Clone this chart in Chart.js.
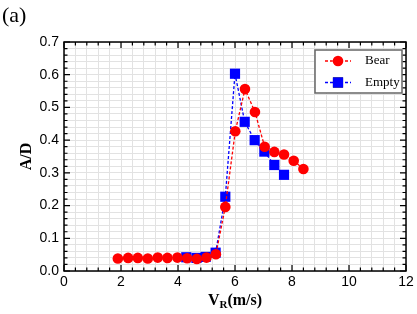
<!DOCTYPE html>
<html>
<head>
<meta charset="utf-8">
<script src="https://cdn.jsdelivr.net/npm/chart.js@4/dist/chart.umd.min.js"></script>
<style>
  html, body { margin: 0; padding: 0; background: #fff; }
  #wrap { width: 417px; height: 314px; position: relative; }
</style>
</head>
<body>
<div id="wrap"><canvas id="chart" width="417" height="314"></canvas></div>
<script>
(function() {
  'use strict';

  // Bear series (red circles)
  var bearX = [1.89, 2.25, 2.59, 2.94, 3.29, 3.63, 3.98, 4.32, 4.66, 5.00, 5.33,
               5.66, 6.01, 6.35, 6.70, 7.04, 7.38, 7.72, 8.06, 8.40];
  var bearY = [0.038, 0.040, 0.040, 0.038, 0.041, 0.040, 0.041, 0.039, 0.037, 0.041, 0.051,
               0.196, 0.427, 0.556, 0.486, 0.380, 0.364, 0.356, 0.337, 0.312];

  // Empty series (blue squares)
  var emptyX = [4.29, 4.65, 4.97, 5.32, 5.66, 6.00, 6.34, 6.69, 7.03, 7.38, 7.72];
  var emptyY = [0.042, 0.040, 0.043, 0.056, 0.227, 0.603, 0.456, 0.400, 0.365, 0.324, 0.294];

  var seriesNames = ['Bear', 'Empty'];

  var X_MIN = 0, X_MAX = 12, X_STEP = 0.4, X_LABEL_STEP = 2;
  var Y_MIN = 0, Y_MAX = 0.7, Y_STEP = 0.02, Y_LABEL_STEP = 0.1;

  var RED  = '#ff0000';
  var BLUE = '#0000ff';
  var GRID = '#e2e2e2';
  var FONT_SANS  = "'Liberation Sans', Arial, sans-serif";
  var FONT_SERIF = "'Liberation Serif', 'Times New Roman', serif";

  function pts(xs, ys) {
    return xs.map(function(x, i) { return { x: x, y: ys[i] }; });
  }

  function isMultiple(v, step) {
    var r = v / step;
    return Math.abs(r - Math.round(r)) < 1e-6;
  }

  // box, inward ticks, axis titles, legend, panel label
  var decor = {
    id: 'decor',
    afterDatasetsDraw: function(chart) {
      var ctx = chart.ctx;
      var a = chart.chartArea;
      var xs = chart.scales.x, ys = chart.scales.y;
      ctx.save();
      ctx.strokeStyle = '#000';
      ctx.lineWidth = 1.5;
      ctx.strokeRect(a.left, a.top, a.right - a.left, a.bottom - a.top);

      ctx.lineWidth = 1.2;
      ctx.beginPath();
      xs.ticks.forEach(function(t) {
        var px = xs.getPixelForValue(t.value);
        var len = isMultiple(t.value, X_LABEL_STEP) ? 6 : 3.5;
        ctx.moveTo(px, a.bottom); ctx.lineTo(px, a.bottom - len);
        ctx.moveTo(px, a.top); ctx.lineTo(px, a.top + len);
      });
      ys.ticks.forEach(function(t) {
        var py = ys.getPixelForValue(t.value);
        var len = isMultiple(t.value, Y_LABEL_STEP) ? 6 : 3.5;
        ctx.moveTo(a.left, py); ctx.lineTo(a.left + len, py);
        ctx.moveTo(a.right, py); ctx.lineTo(a.right - len, py);
      });
      ctx.stroke();

      // x title: V_R(m/s)
      ctx.fillStyle = '#000';
      ctx.textBaseline = 'alphabetic';
      var cx = (a.left + a.right) / 2;
      var ty = 305;
      ctx.font = 'bold 16px ' + FONT_SERIF;
      var wV = ctx.measureText('V').width;
      ctx.font = 'bold 11px ' + FONT_SERIF;
      var wR = ctx.measureText('R').width;
      ctx.font = 'bold 16px ' + FONT_SERIF;
      var wRest = ctx.measureText('(m/s)').width;
      var sx = cx - (wV + wR + wRest) / 2;
      ctx.textAlign = 'left';
      ctx.fillText('V', sx, ty);
      ctx.font = 'bold 11px ' + FONT_SERIF;
      ctx.fillText('R', sx + wV, ty + 3);
      ctx.font = 'bold 16px ' + FONT_SERIF;
      ctx.fillText('(m/s)', sx + wV + wR, ty);

      // y title
      ctx.save();
      ctx.translate(27, (a.top + a.bottom) / 2);
      ctx.rotate(-Math.PI / 2);
      ctx.textAlign = 'center';
      ctx.textBaseline = 'middle';
      ctx.font = 'bold 16px ' + FONT_SERIF;
      ctx.fillText('A/D', 0, 0);
      ctx.restore();

      // panel label
      ctx.font = '22px ' + FONT_SERIF;
      ctx.textAlign = 'left';
      ctx.textBaseline = 'alphabetic';
      ctx.fillText('(a)', 2, 22);

      // legend
      var lx = a.right - 91, ly = a.top + 8, lw = 87, lh = 43;
      ctx.fillStyle = '#fff';
      ctx.fillRect(lx, ly, lw, lh);
      ctx.strokeStyle = '#666';
      ctx.lineWidth = 1.5;
      ctx.strokeRect(lx, ly, lw, lh);
      chart.data.datasets.forEach(function(ds, i) {
        var y = ly + 11 + i * 21.5;
        ctx.strokeStyle = ds.borderColor;
        ctx.lineWidth = 1.3;
        ctx.setLineDash([3, 2]);
        ctx.beginPath();
        ctx.moveTo(lx + 10, y); ctx.lineTo(lx + 36, y);
        ctx.stroke();
        ctx.setLineDash([]);
        Chart.helpers.drawPoint(ctx, {
          pointStyle: ds.pointStyle, radius: ds.pointRadius, rotation: 0, borderWidth: 0
        }, lx + 23, y);
        ctx.fillStyle = ds.backgroundColor;
        ctx.fill();
        ctx.fillStyle = '#000';
        ctx.font = '13px ' + FONT_SERIF;
        ctx.textBaseline = 'middle';
        ctx.fillText(ds.label, lx + 50, y);
      });
      ctx.restore();
    }
  };

  new Chart(document.getElementById('chart'), {
    type: 'scatter',
    data: {
      datasets: [
        {
          label: seriesNames[0],
          data: pts(bearX, bearY),
          showLine: true,
          borderColor: RED,
          backgroundColor: RED,
          borderWidth: 1.3,
          borderDash: [3, 2],
          pointStyle: 'circle',
          pointRadius: 5.3,
          pointBorderWidth: 0
        },
        {
          label: seriesNames[1],
          data: pts(emptyX, emptyY),
          showLine: true,
          borderColor: BLUE,
          backgroundColor: BLUE,
          borderWidth: 1.3,
          borderDash: [3, 2],
          pointStyle: 'rect',
          pointRadius: 7.2,
          pointBorderWidth: 0
        }
      ]
    },
    options: {
      responsive: false,
      animation: false,
      devicePixelRatio: 1,
      layout: { padding: { left: 0, top: 42, right: 11, bottom: 0 } },
      plugins: {
        legend: { display: false },
        tooltip: { enabled: false }
      },
      scales: {
        x: {
          type: 'linear',
          min: X_MIN, max: X_MAX,
          afterFit: function(s) { s.height = 43; },
          afterBuildTicks: function(s) {
            var t = [];
            for (var i = 0; i <= Math.round((X_MAX - X_MIN) / X_STEP); i++) t.push({ value: +(X_MIN + i * X_STEP).toFixed(4) });
            s.ticks = t;
          },
          ticks: {
            autoSkip: false, maxRotation: 0, padding: 3,
            color: '#000',
            font: { family: FONT_SANS, size: 14 },
            callback: function(v) { return isMultiple(v, X_LABEL_STEP) ? String(Math.round(v)) : ''; }
          },
          grid: { color: GRID, lineWidth: 1, drawTicks: false },
          border: { display: false }
        },
        y: {
          type: 'linear',
          min: Y_MIN, max: Y_MAX,
          afterFit: function(s) { s.width = 64; },
          afterBuildTicks: function(s) {
            var t = [];
            for (var i = 0; i <= Math.round((Y_MAX - Y_MIN) / Y_STEP); i++) t.push({ value: +(Y_MIN + i * Y_STEP).toFixed(4) });
            s.ticks = t;
          },
          ticks: {
            autoSkip: false, padding: 5,
            color: '#000',
            font: { family: FONT_SANS, size: 14 },
            callback: function(v) { return isMultiple(v, Y_LABEL_STEP) ? v.toFixed(1) : ''; }
          },
          grid: { color: GRID, lineWidth: 1, drawTicks: false },
          border: { display: false }
        }
      }
    },
    plugins: [decor]
  });
})();
</script>
</body>
</html>
